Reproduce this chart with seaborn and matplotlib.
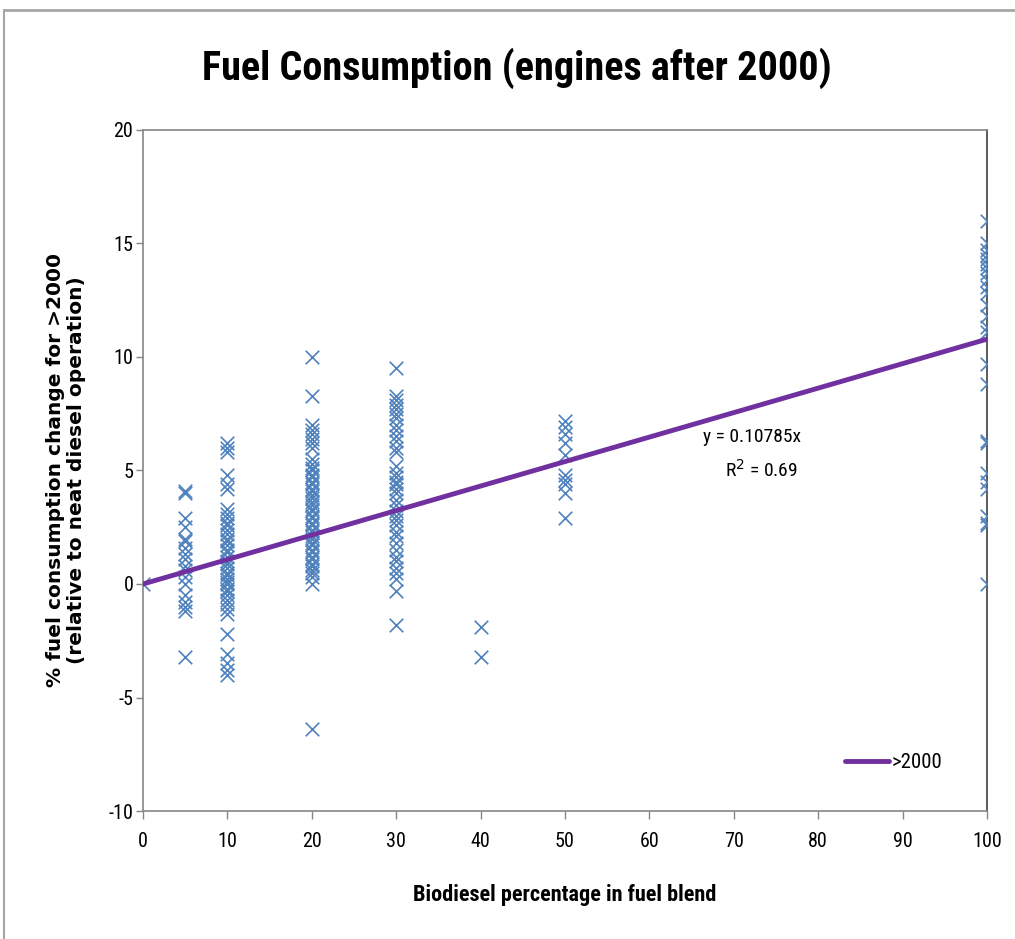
import numpy as np
import pandas as pd
import matplotlib
matplotlib.use("Agg")
import matplotlib.pyplot as plt
from matplotlib import font_manager
from matplotlib.lines import Line2D
import seaborn as sns

# Measured fuel consumption change (%) grouped by biodiesel blend level (%)
blend_0 = [0.0]
blend_5 = [4.1, 4.0, 2.9, 2.5, 2.0, 1.9, 1.6, 1.3, 1.1, 0.8, 0.6, 0.3, 0.0,
           -0.5, -0.8, -1.0, -1.2, -3.2]
blend_10 = [6.2, 6.0, 5.8, 4.8, 4.4, 4.2, 3.3, 3.1, 2.9, 2.7, 2.6, 2.4, 2.2,
            2.0, 1.9, 1.7, 1.5, 1.4, 1.2, 1.0, 0.9, 0.7, 0.5, 0.4, 0.2, 0.1,
            0.0, -0.2, -0.3, -0.5, -0.7, -0.9, -1.1, -1.3, -2.2, -3.1, -3.5,
            -3.8, -4.0]
blend_20 = [10.0, 8.3, 7.0, 6.8, 6.6, 6.4, 6.2, 6.0, 5.5, 5.3, 5.1, 5.0, 4.8,
            4.7, 4.5, 4.4, 4.2, 4.1, 3.9, 3.8, 3.6, 3.5, 3.3, 3.2, 3.0, 2.9,
            2.7, 2.6, 2.4, 2.3, 2.1, 2.0, 1.8, 1.7, 1.5, 1.4, 1.2, 1.1, 0.9,
            0.8, 0.6, 0.5, 0.3, 0.0, -6.4]
blend_30 = [9.5, 8.3, 8.1, 7.9, 7.7, 7.5, 7.3, 7.0, 6.8, 6.5, 6.3, 6.0, 5.8,
            5.2, 4.9, 4.7, 4.5, 4.4, 4.2, 4.0, 3.7, 3.5, 3.2, 3.0, 2.8, 2.6,
            2.3, 2.1, 1.8, 1.5, 1.2, 1.0, 0.7, 0.5, 0.2, -0.3, -1.8]
blend_40 = [-1.9, -3.2]
blend_50 = [7.2, 6.9, 6.6, 6.2, 5.7, 4.8, 4.6, 4.4, 4.0, 2.9]
blend_100 = [16.0, 15.0, 14.7, 14.5, 14.3, 14.1, 13.9, 13.7, 13.4, 13.1, 12.8,
             12.3, 11.8, 11.3, 11.1, 9.7, 8.8, 6.3, 6.2, 4.9, 4.5, 4.2, 3.0,
             2.7, 2.6, 0.0]

groups = {0: blend_0, 5: blend_5, 10: blend_10, 20: blend_20, 30: blend_30,
          40: blend_40, 50: blend_50, 100: blend_100}

# Linear trend through the origin
trend_slope = 0.10785
trend_r2 = 0.69
trend_x = [0, 100]
series_label = ">2000"

x_ticks = list(range(0, 101, 10))
y_ticks = list(range(-10, 21, 5))

title = "Fuel Consumption (engines after 2000)"
x_label = "Biodiesel percentage in fuel blend"
y_label = "% fuel consumption change for >2000\n(relative to neat diesel operation)"

rows = [(b, v) for b, vals in groups.items() for v in vals]
df = pd.DataFrame(rows, columns=["blend", "change"])
trend_df = pd.DataFrame({"blend": trend_x,
                         "change": [trend_slope * x for x in trend_x]})


def pick_font(candidates):
    installed = {f.name for f in font_manager.fontManager.ttflist}
    for name in candidates:
        if name in installed:
            return name
    return "DejaVu Sans"


narrow_font = pick_font(["Liberation Sans Narrow", "DejaVu Sans Condensed",
                         "Roboto Condensed", "Open Sans Condensed", "Lato"])

sns.set_theme(style="white")
plt.rcParams["font.family"] = [narrow_font, "DejaVu Sans"]
plt.rcParams["axes.unicode_minus"] = False
plt.rcParams["text.color"] = "black"
plt.rcParams["axes.labelcolor"] = "black"

fig = plt.figure(figsize=(10.15, 9.39), dpi=100)
ax = fig.add_axes([0.1409, 0.1363, 0.9724 - 0.1409, 0.8616 - 0.1363])

sns.scatterplot(data=df, x="blend", y="change", marker="x", s=95,
                color="#4f81bd", linewidth=1.2, ax=ax, legend=False, zorder=3)
sns.lineplot(data=trend_df, x="blend", y="change", color="#7030a0",
             linewidth=3.5, ax=ax, zorder=4, label=series_label)

ax.set_xlim(0, 100)
ax.set_ylim(-10, 20)
ax.set_xticks(x_ticks)
ax.set_yticks(y_ticks)
ax.tick_params(axis="both", which="major", direction="out", width=1,
               color="#868686", labelsize=14.5, bottom=True, left=True,
               labelcolor="black")
ax.tick_params(axis="y", length=5, pad=2)
ax.tick_params(axis="x", length=6, pad=9)
for side in ["left", "top", "bottom"]:
    ax.spines[side].set_color("#868686")
    ax.spines[side].set_linewidth(1.2)
ax.spines["right"].set_color("#404040")
ax.spines["right"].set_linewidth(1.2)
ax.grid(False)

ax.set_xlabel(x_label, fontsize=16, fontweight="bold", labelpad=24)
ax.set_ylabel(y_label, fontsize=14.5, fontweight="bold", labelpad=16,
              family=["DejaVu Sans"], linespacing=1.15)

ax.text(0.7216, 0.549, f"y = {trend_slope}x", transform=ax.transAxes,
        fontsize=14, ha="center", va="center")
ax.text(0.733, 0.501, f"R$^2$ = {trend_r2}", transform=ax.transAxes,
        fontsize=14, ha="center", va="center")

leg = ax.legend(loc="center left", bbox_to_anchor=(0.832, 0.0705),
                frameon=False, fontsize=15, handlelength=2.1,
                handletextpad=0.15, borderpad=0, borderaxespad=0)

fig.text(0.509, 0.927, title, fontsize=29, fontweight="bold",
         ha="center", va="center")

# Outer chart frame
fig.add_artist(Line2D([0.004, 1.0], [0.989, 0.989], color="#a6a6a6",
                      linewidth=2, transform=fig.transFigure))
fig.add_artist(Line2D([0.004, 0.004], [0.0, 0.989], color="#a6a6a6",
                      linewidth=1.5, transform=fig.transFigure))

fig.savefig("out.png", dpi=100)
